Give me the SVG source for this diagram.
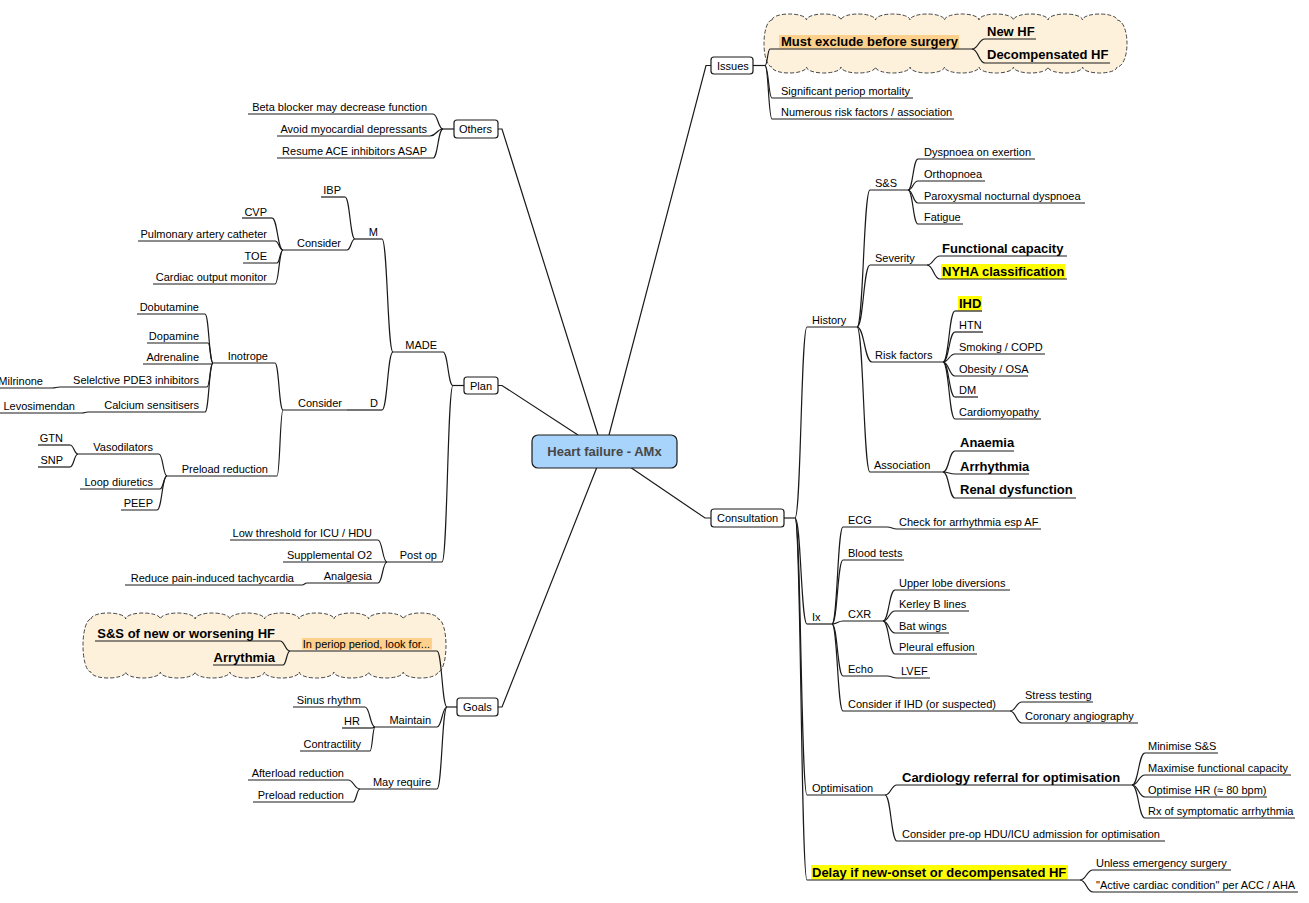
<svg xmlns="http://www.w3.org/2000/svg" width="1309" height="903" viewBox="0 0 1309 903">
<style>
text{font-family:"Liberation Sans",Arial,sans-serif;font-size:11px;fill:#000}
.b{font-weight:bold;font-size:13px}
.e{text-anchor:end}
.u,.c{stroke:#1a1a1a;stroke-width:1.2;fill:none}
.box{fill:#fff;stroke:#1a1a1a;stroke-width:1.2}
.cloud{fill:#fdf1dc;stroke:#444;stroke-width:1;stroke-dasharray:4 2}
.hl{fill:#fdd08b}
.hy{fill:#ffff00}
</style>
<rect width="1309" height="903" fill="#fff"/>
<!-- boundaries -->
<path class="cloud" d="M772,20 a17.25,6 0 0 1 34.5,0 a17.25,6 0 0 1 34.5,0 a17.25,6 0 0 1 34.5,0 a17.25,6 0 0 1 34.5,0 a17.25,6 0 0 1 34.5,0 a17.25,6 0 0 1 34.5,0 a17.25,6 0 0 1 34.5,0 a17.25,6 0 0 1 34.5,0 a17.25,6 0 0 1 34.5,0 a17.25,6 0 0 1 34.5,0 a10,23.5 0 0 1 0,47 a17.25,6 0 0 1 -34.5,0 a17.25,6 0 0 1 -34.5,0 a17.25,6 0 0 1 -34.5,0 a17.25,6 0 0 1 -34.5,0 a17.25,6 0 0 1 -34.5,0 a17.25,6 0 0 1 -34.5,0 a17.25,6 0 0 1 -34.5,0 a17.25,6 0 0 1 -34.5,0 a17.25,6 0 0 1 -34.5,0 a17.25,6 0 0 1 -34.5,0 a8,23.5 0 0 1 0,-47 Z"/>
<path class="cloud" d="M91,619 a17.35,6 0 0 1 34.7,0 a17.35,6 0 0 1 34.7,0 a17.35,6 0 0 1 34.7,0 a17.35,6 0 0 1 34.7,0 a17.35,6 0 0 1 34.7,0 a17.35,6 0 0 1 34.7,0 a17.35,6 0 0 1 34.7,0 a17.35,6 0 0 1 34.7,0 a17.35,6 0 0 1 34.7,0 a17.35,6 0 0 1 34.7,0 a8,26.5 0 0 1 0,53 a17.35,6 0 0 1 -34.7,0 a17.35,6 0 0 1 -34.7,0 a17.35,6 0 0 1 -34.7,0 a17.35,6 0 0 1 -34.7,0 a17.35,6 0 0 1 -34.7,0 a17.35,6 0 0 1 -34.7,0 a17.35,6 0 0 1 -34.7,0 a17.35,6 0 0 1 -34.7,0 a17.35,6 0 0 1 -34.7,0 a17.35,6 0 0 1 -34.7,0 a8,26.5 0 0 1 0,-53 Z"/>
<g id="connectors">
<path class="c" d="M498 129 H502 L598 435"/>
<path class="c" d="M711 65.5 H706 L609 435"/>
<path class="c" d="M498 385.5 H502 L578 435"/>
<path class="c" d="M711 518 H705 L630 467"/>
<path class="c" d="M498 707 H502 L597 467"/>
<path class="c" d="M753 65.5 H765"/>
<path class="c" d="M765 65.5 C767.5 65.5 767.5 49 770 49"/>
<path class="c" d="M765 65.5 C768.5 65.5 768.5 98 772 98"/>
<path class="c" d="M765 65.5 C768.5 65.5 768.5 119 772 119"/>
<path class="c" d="M972 49 C978.5 49 978.5 39 985 39"/>
<path class="c" d="M972 49 C978.5 49 978.5 63 985 63"/>
<path class="c" d="M784 518 H795"/>
<path class="c" d="M795 518 C801 518 801 327 807 327"/>
<path class="c" d="M795 518 C801 518 801 624 807 624"/>
<path class="c" d="M795 518 C801 518 801 795 807 795"/>
<path class="c" d="M795 518 C801 518 801 880 807 880"/>
<path class="c" d="M857 327 C863.5 327 863.5 190 870 190"/>
<path class="c" d="M857 327 C863.5 327 863.5 265 870 265"/>
<path class="c" d="M857 327 C864.5 327 864.5 362 872 362"/>
<path class="c" d="M857 327 C863.5 327 863.5 472 870 472"/>
<path class="c" d="M908 190 C913 190 913 159 918 159"/>
<path class="c" d="M908 190 C913 190 913 181 918 181"/>
<path class="c" d="M908 190 C913 190 913 203 918 203"/>
<path class="c" d="M908 190 C913 190 913 224 918 224"/>
<path class="c" d="M927 265 C933.5 265 933.5 256 940 256"/>
<path class="c" d="M927 265 C933.5 265 933.5 279 940 279"/>
<path class="c" d="M943 362 C949 362 949 311 955 311"/>
<path class="c" d="M943 362 C949 362 949 332 955 332"/>
<path class="c" d="M943 362 C949 362 949 354 955 354"/>
<path class="c" d="M943 362 C949 362 949 376 955 376"/>
<path class="c" d="M943 362 C949 362 949 397 955 397"/>
<path class="c" d="M943 362 C949 362 949 419 955 419"/>
<path class="c" d="M943 472 C949 472 949 451 955 451"/>
<path class="c" d="M943 472 C949 472 949 474 955 474"/>
<path class="c" d="M943 472 C949 472 949 498 955 498"/>
<path class="c" d="M832 624 C837.5 624 837.5 527 843 527"/>
<path class="c" d="M832 624 C837.5 624 837.5 560 843 560"/>
<path class="c" d="M832 624 C837.5 624 837.5 621 843 621"/>
<path class="c" d="M832 624 C837.5 624 837.5 676 843 676"/>
<path class="c" d="M832 624 C837.5 624 837.5 711 843 711"/>
<path class="c" d="M887 527 C892 527 892 529 897 529"/>
<path class="c" d="M883 621 C889 621 889 590 895 590"/>
<path class="c" d="M883 621 C889 621 889 611 895 611"/>
<path class="c" d="M883 621 C889 621 889 633 895 633"/>
<path class="c" d="M883 621 C889 621 889 654 895 654"/>
<path class="c" d="M887 676 C892 676 892 678 897 678"/>
<path class="c" d="M1010 711 C1016 711 1016 702 1022 702"/>
<path class="c" d="M1010 711 C1016 711 1016 723 1022 723"/>
<path class="c" d="M885 795 C891 795 891 785 897 785"/>
<path class="c" d="M885 795 C891 795 891 841 897 841"/>
<path class="c" d="M1132 785 C1138.5 785 1138.5 753 1145 753"/>
<path class="c" d="M1132 785 C1138.5 785 1138.5 775 1145 775"/>
<path class="c" d="M1132 785 C1138.5 785 1138.5 797 1145 797"/>
<path class="c" d="M1132 785 C1138.5 785 1138.5 818 1145 818"/>
<path class="c" d="M1080 880 C1086.5 880 1086.5 870 1093 870"/>
<path class="c" d="M1080 880 C1086.5 880 1086.5 892 1093 892"/>
<path class="c" d="M454 129 H443"/>
<path class="c" d="M443 129 C438 129 438 114 433 114"/>
<path class="c" d="M443 129 C436.5 129 436.5 136 430 136"/>
<path class="c" d="M443 129 C438 129 438 158 433 158"/>
<path class="c" d="M464 385.5 H453"/>
<path class="c" d="M453 385.5 C448 385.5 448 352 443 352"/>
<path class="c" d="M453 385.5 C447.5 385.5 447.5 562 442 562"/>
<path class="c" d="M393 352 C387.5 352 387.5 239 382 239"/>
<path class="c" d="M393 352 C387.5 352 387.5 410 382 410"/>
<path class="c" d="M355 239 C350 239 350 197 345 197"/>
<path class="c" d="M355 239 C351 239 351 250 347 250"/>
<path class="c" d="M283 250 C277.5 250 277.5 218 272 218"/>
<path class="c" d="M283 250 C279 250 279 241 275 241"/>
<path class="c" d="M283 250 C280 250 280 263 277 263"/>
<path class="c" d="M283 250 C279 250 279 284 275 284"/>
<path class="c" d="M363 410 H347"/>
<path class="c" d="M283 410 C279 410 279 363 275 363"/>
<path class="c" d="M283 410 C280 410 280 476 277 476"/>
<path class="c" d="M213 363 C209 363 209 314 205 314"/>
<path class="c" d="M213 363 C210.5 363 210.5 343 208 343"/>
<path class="c" d="M213 363 C212.5 363 212.5 364 212 364"/>
<path class="c" d="M213 363 C210 363 210 387 207 387"/>
<path class="c" d="M213 363 C209 363 209 412 205 412"/>
<path class="c" d="M60 387 C56 387 56 388 52 388"/>
<path class="c" d="M88 412 C85 412 85 413 82 413"/>
<path class="c" d="M167 476 C163 476 163 454 159 454"/>
<path class="c" d="M167 476 C163.5 476 163.5 489 160 489"/>
<path class="c" d="M167 476 C162 476 162 510 157 510"/>
<path class="c" d="M78 454 C74 454 74 445 70 445"/>
<path class="c" d="M78 454 C74 454 74 467 70 467"/>
<path class="c" d="M387 562 C382.5 562 382.5 540 378 540"/>
<path class="c" d="M387 562 C382.5 562 382.5 583 378 583"/>
<path class="c" d="M307 583 C304.5 583 304.5 585 302 585"/>
<path class="c" d="M457 707 H447"/>
<path class="c" d="M447 707 C442 707 442 651 437 651"/>
<path class="c" d="M447 707 C442 707 442 727 437 727"/>
<path class="c" d="M447 707 C442 707 442 789 437 789"/>
<path class="c" d="M290 651 C285 651 285 641 280 641"/>
<path class="c" d="M290 651 C286.5 651 286.5 665 283 665"/>
<path class="c" d="M375 727 C370 727 370 707 365 707"/>
<path class="c" d="M375 727 C373.5 727 373.5 728 372 728"/>
<path class="c" d="M375 727 C372.5 727 372.5 751 370 751"/>
<path class="c" d="M360 789 C354 789 354 780 348 780"/>
<path class="c" d="M360 789 C356.5 789 356.5 802 353 802"/>
</g>
<g id="central"><rect x="532" y="435" width="145" height="33" rx="6" fill="#a8d3fb" stroke="#1a1a1a" stroke-width="1.2"/><text class="b" x="604.5" y="456" text-anchor="middle" style="fill:#474747">Heart failure - AMx</text></g>
<!-- Issues -->
<g id="issues"><rect class="box" x="711" y="57" width="42" height="17" rx="3"/><text x="717" y="69.5">Issues</text></g>
<g id="must-exclude"><rect class="hl" x="779" y="35" width="180" height="13.5"/><line class="u" x1="770" y1="49" x2="972" y2="49"/><text class="b" x="781" y="46">Must exclude before surgery</text></g>
<g id="new-hf"><line class="u" x1="985" y1="39" x2="1036" y2="39"/><text class="b" x="987" y="35.5">New HF</text></g>
<g id="decomp-hf"><line class="u" x1="985" y1="63" x2="1110" y2="63"/><text class="b" x="987" y="59">Decompensated HF</text></g>
<g id="sig-mortality"><line class="u" x1="772" y1="98" x2="913" y2="98"/><text x="781" y="94.5">Significant periop mortality</text></g>
<g id="numerous"><line class="u" x1="772" y1="119" x2="954" y2="119"/><text x="781" y="115.5">Numerous risk factors / association</text></g>
<!-- Consultation -->
<g id="consultation"><rect class="box" x="711" y="509" width="73" height="18" rx="3"/><text x="717" y="522">Consultation</text></g>
<g id="history"><line class="u" x1="807" y1="327" x2="857" y2="327"/><text x="812" y="324">History</text></g>
<g id="ss"><line class="u" x1="870" y1="190" x2="908" y2="190"/><text x="875" y="187">S&amp;S</text></g>
<g id="doe"><line class="u" x1="918" y1="159" x2="1035" y2="159"/><text x="924" y="156">Dyspnoea on exertion</text></g>
<g id="orthopnoea"><line class="u" x1="918" y1="181" x2="985" y2="181"/><text x="924" y="178">Orthopnoea</text></g>
<g id="pnd"><line class="u" x1="918" y1="203" x2="1085" y2="203"/><text x="924" y="199.5">Paroxysmal nocturnal dyspnoea</text></g>
<g id="fatigue"><line class="u" x1="918" y1="224" x2="963" y2="224"/><text x="924" y="221">Fatigue</text></g>
<g id="severity"><line class="u" x1="870" y1="265" x2="927" y2="265"/><text x="875" y="262">Severity</text></g>
<g id="func-cap"><line class="u" x1="940" y1="256" x2="1067" y2="256"/><text class="b" x="942" y="253">Functional capacity</text></g>
<g id="nyha"><rect class="hy" x="941" y="264" width="124" height="15"/><line class="u" x1="940" y1="279" x2="1067" y2="279"/><text class="b" x="942" y="276">NYHA classification</text></g>
<g id="risk-factors"><line class="u" x1="872" y1="362" x2="943" y2="362"/><text x="875" y="359">Risk factors</text></g>
<g id="ihd"><rect class="hy" x="958" y="296" width="24" height="14.5"/><line class="u" x1="955" y1="311" x2="982" y2="311"/><text class="b" x="959" y="307.5">IHD</text></g>
<g id="htn"><line class="u" x1="955" y1="332" x2="983" y2="332"/><text x="959" y="329">HTN</text></g>
<g id="smoking"><line class="u" x1="955" y1="354" x2="1045" y2="354"/><text x="959" y="351">Smoking / COPD</text></g>
<g id="obesity"><line class="u" x1="955" y1="376" x2="1028" y2="376"/><text x="959" y="373">Obesity / OSA</text></g>
<g id="dm"><line class="u" x1="955" y1="397" x2="978" y2="397"/><text x="959" y="394">DM</text></g>
<g id="cardiomyopathy"><line class="u" x1="955" y1="419" x2="1041" y2="419"/><text x="959" y="416">Cardiomyopathy</text></g>
<g id="association"><line class="u" x1="870" y1="472" x2="943" y2="472"/><text x="874" y="468.5">Association</text></g>
<g id="anaemia"><line class="u" x1="955" y1="451" x2="1014" y2="451"/><text class="b" x="960" y="447">Anaemia</text></g>
<g id="arrhythmia"><line class="u" x1="955" y1="474" x2="1029" y2="474"/><text class="b" x="960" y="470.5">Arrhythmia</text></g>
<g id="renal"><line class="u" x1="955" y1="498" x2="1076" y2="498"/><text class="b" x="960" y="494">Renal dysfunction</text></g>
<g id="ix"><line class="u" x1="807" y1="624" x2="832" y2="624"/><text x="812" y="621">Ix</text></g>
<g id="ecg"><line class="u" x1="843" y1="527" x2="887" y2="527"/><text x="848" y="524">ECG</text></g>
<g id="check-arr"><line class="u" x1="897" y1="529" x2="1041" y2="529"/><text x="899" y="526">Check for arrhythmia esp AF</text></g>
<g id="blood"><line class="u" x1="843" y1="560" x2="904" y2="560"/><text x="848" y="557">Blood tests</text></g>
<g id="cxr"><line class="u" x1="843" y1="621" x2="883" y2="621"/><text x="848" y="617.5">CXR</text></g>
<g id="upper-lobe"><line class="u" x1="895" y1="590" x2="1010" y2="590"/><text x="899" y="587">Upper lobe diversions</text></g>
<g id="kerley"><line class="u" x1="895" y1="611" x2="969" y2="611"/><text x="899" y="607.5">Kerley B lines</text></g>
<g id="bat"><line class="u" x1="895" y1="633" x2="949" y2="633"/><text x="899" y="629.5">Bat wings</text></g>
<g id="pleural"><line class="u" x1="895" y1="654" x2="977" y2="654"/><text x="899" y="651">Pleural effusion</text></g>
<g id="echo"><line class="u" x1="843" y1="676" x2="887" y2="676"/><text x="848" y="673">Echo</text></g>
<g id="lvef"><line class="u" x1="897" y1="678" x2="930" y2="678"/><text x="901" y="674.5">LVEF</text></g>
<g id="consider-ihd"><line class="u" x1="843" y1="711" x2="1010" y2="711"/><text x="848" y="707.5">Consider if IHD (or suspected)</text></g>
<g id="stress"><line class="u" x1="1022" y1="702" x2="1093" y2="702"/><text x="1025" y="698.5">Stress testing</text></g>
<g id="angio"><line class="u" x1="1022" y1="723" x2="1138" y2="723"/><text x="1025" y="720">Coronary angiography</text></g>
<g id="optimisation"><line class="u" x1="807" y1="795" x2="885" y2="795"/><text x="812" y="791.5">Optimisation</text></g>
<g id="cardiology"><line class="u" x1="897" y1="785" x2="1132" y2="785"/><text class="b" x="902" y="781.5">Cardiology referral for optimisation</text></g>
<g id="minimise"><line class="u" x1="1145" y1="753" x2="1218" y2="753"/><text x="1148" y="749.5">Minimise S&amp;S</text></g>
<g id="maximise"><line class="u" x1="1145" y1="775" x2="1291" y2="775"/><text x="1148" y="771.5">Maximise functional capacity</text></g>
<g id="optimise-hr"><line class="u" x1="1145" y1="797" x2="1267" y2="797"/><text x="1148" y="793.5">Optimise HR (≈ 80 bpm)</text></g>
<g id="rx"><line class="u" x1="1145" y1="818" x2="1295" y2="818"/><text x="1148" y="814.5">Rx of symptomatic arrhythmia</text></g>
<g id="preop-hdu"><line class="u" x1="897" y1="841" x2="1165" y2="841"/><text x="902" y="837.5">Consider pre-op HDU/ICU admission for optimisation</text></g>
<g id="delay"><rect class="hy" x="811" y="865" width="257" height="14.5"/><line class="u" x1="807" y1="880" x2="1080" y2="880"/><text class="b" x="812" y="877">Delay if new-onset or decompensated HF</text></g>
<g id="unless"><line class="u" x1="1093" y1="870" x2="1231" y2="870"/><text x="1096" y="867">Unless emergency surgery</text></g>
<g id="active"><line class="u" x1="1093" y1="892" x2="1298" y2="892"/><text x="1096" y="888.5">"Active cardiac condition" per ACC / AHA</text></g>
<!-- Others -->
<g id="others"><rect class="box" x="454" y="120" width="44" height="18" rx="3"/><text x="459" y="133">Others</text></g>
<g id="beta"><line class="u" x1="248" y1="114" x2="433" y2="114"/><text class="e" x="427" y="110.5">Beta blocker may decrease function</text></g>
<g id="avoid"><line class="u" x1="277" y1="136" x2="430" y2="136"/><text class="e" x="427" y="132.5">Avoid myocardial depressants</text></g>
<g id="resume"><line class="u" x1="277" y1="158" x2="433" y2="158"/><text class="e" x="427" y="154.5">Resume ACE inhibitors ASAP</text></g>
<!-- Plan -->
<g id="plan"><rect class="box" x="464" y="377" width="34" height="17" rx="3"/><text x="470" y="390">Plan</text></g>
<g id="made"><line class="u" x1="393" y1="352" x2="443" y2="352"/><text class="e" x="437" y="349">MADE</text></g>
<g id="m"><line class="u" x1="355" y1="239" x2="382" y2="239"/><text class="e" x="378" y="236">M</text></g>
<g id="ibp"><line class="u" x1="321" y1="197" x2="345" y2="197"/><text class="e" x="341" y="193.5">IBP</text></g>
<g id="consider-m"><line class="u" x1="283" y1="250" x2="347" y2="250"/><text class="e" x="341" y="247">Consider</text></g>
<g id="cvp"><line class="u" x1="242" y1="218" x2="272" y2="218"/><text class="e" x="267" y="215.5">CVP</text></g>
<g id="pac"><line class="u" x1="138" y1="241" x2="275" y2="241"/><text class="e" x="267" y="237.5">Pulmonary artery catheter</text></g>
<g id="toe"><line class="u" x1="243" y1="263" x2="277" y2="263"/><text class="e" x="267" y="259.5">TOE</text></g>
<g id="com"><line class="u" x1="153" y1="284" x2="275" y2="284"/><text class="e" x="267" y="281">Cardiac output monitor</text></g>
<g id="d"><line class="u" x1="363" y1="410" x2="382" y2="410"/><text class="e" x="378" y="407">D</text></g>
<g id="consider-d"><line class="u" x1="283" y1="410" x2="347" y2="410"/><text class="e" x="342" y="407">Consider</text></g>
<g id="inotrope"><line class="u" x1="213" y1="363" x2="275" y2="363"/><text class="e" x="268" y="359.5">Inotrope</text></g>
<g id="dobutamine"><line class="u" x1="137" y1="314" x2="205" y2="314"/><text class="e" x="199" y="310.5">Dobutamine</text></g>
<g id="dopamine"><line class="u" x1="147" y1="343" x2="208" y2="343"/><text class="e" x="199" y="339.5">Dopamine</text></g>
<g id="adrenaline"><line class="u" x1="143" y1="364" x2="212" y2="364"/><text class="e" x="199" y="361">Adrenaline</text></g>
<g id="pde3"><line class="u" x1="60" y1="387" x2="207" y2="387"/><text class="e" x="199" y="383.5">Selelctive PDE3 inhibitors</text></g>
<g id="milrinone"><line class="u" x1="0" y1="388" x2="52" y2="388"/><text class="e" x="43" y="384.5">Milrinone</text></g>
<g id="calcium"><line class="u" x1="88" y1="412" x2="205" y2="412"/><text class="e" x="199" y="408.5">Calcium sensitisers</text></g>
<g id="levo"><line class="u" x1="0" y1="413" x2="82" y2="413"/><text class="e" x="75" y="410">Levosimendan</text></g>
<g id="preload"><line class="u" x1="167" y1="476" x2="277" y2="476"/><text class="e" x="268" y="473">Preload reduction</text></g>
<g id="vasodilators"><line class="u" x1="78" y1="454" x2="159" y2="454"/><text class="e" x="153" y="451">Vasodilators</text></g>
<g id="gtn"><line class="u" x1="38" y1="445" x2="70" y2="445"/><text class="e" x="63" y="441.5">GTN</text></g>
<g id="snp"><line class="u" x1="38" y1="467" x2="70" y2="467"/><text class="e" x="63" y="463.5">SNP</text></g>
<g id="loop"><line class="u" x1="80" y1="489" x2="160" y2="489"/><text class="e" x="153" y="485.5">Loop diuretics</text></g>
<g id="peep"><line class="u" x1="121" y1="510" x2="157" y2="510"/><text class="e" x="153" y="506.5">PEEP</text></g>
<g id="postop"><line class="u" x1="387" y1="562" x2="442" y2="562"/><text class="e" x="437" y="558.5">Post op</text></g>
<g id="low-threshold"><line class="u" x1="230" y1="540" x2="378" y2="540"/><text class="e" x="372" y="536.5">Low threshold for ICU / HDU</text></g>
<g id="suppl-o2"><line class="u" x1="283" y1="562" x2="387" y2="562"/><text class="e" x="372" y="558.5">Supplemental O2</text></g>
<g id="analgesia"><line class="u" x1="307" y1="583" x2="378" y2="583"/><text class="e" x="372" y="579.5">Analgesia</text></g>
<g id="reduce-pain"><line class="u" x1="125" y1="585" x2="302" y2="585"/><text class="e" x="294" y="581.5">Reduce pain-induced tachycardia</text></g>
<!-- Goals -->
<g id="goals"><rect class="box" x="457" y="698" width="41" height="18" rx="3"/><text x="463" y="711">Goals</text></g>
<g id="in-periop"><rect class="hl" x="302" y="638" width="130" height="11.5"/><line class="u" x1="290" y1="651" x2="437" y2="651"/><text class="e" x="430" y="647.5">In periop period, look for...</text></g>
<g id="ss-worsening"><line class="u" x1="95" y1="641" x2="280" y2="641"/><text class="b e" x="275" y="638">S&amp;S of new or worsening HF</text></g>
<g id="arrythmia"><line class="u" x1="213" y1="665" x2="283" y2="665"/><text class="b e" x="275" y="662">Arrythmia</text></g>
<g id="maintain"><line class="u" x1="375" y1="727" x2="437" y2="727"/><text class="e" x="431" y="723.5">Maintain</text></g>
<g id="sinus"><line class="u" x1="293" y1="707" x2="365" y2="707"/><text class="e" x="361" y="703.5">Sinus rhythm</text></g>
<g id="hr"><line class="u" x1="342" y1="728" x2="372" y2="728"/><text class="e" x="360" y="725">HR</text></g>
<g id="contractility"><line class="u" x1="300" y1="751" x2="370" y2="751"/><text class="e" x="361" y="747.5">Contractility</text></g>
<g id="may-require"><line class="u" x1="360" y1="789" x2="437" y2="789"/><text class="e" x="431" y="785.5">May require</text></g>
<g id="afterload"><line class="u" x1="248" y1="780" x2="348" y2="780"/><text class="e" x="344" y="776.5">Afterload reduction</text></g>
<g id="preload-red"><line class="u" x1="253" y1="802" x2="353" y2="802"/><text class="e" x="344" y="798.5">Preload reduction</text></g>
</svg>
